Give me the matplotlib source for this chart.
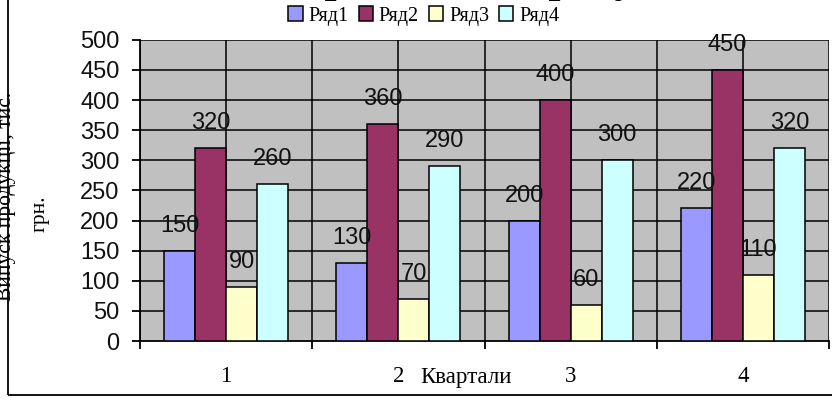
import matplotlib
matplotlib.use("Agg")
import matplotlib.pyplot as plt
from matplotlib.patches import Patch, Rectangle
import numpy as np

categories = ["1", "2", "3", "4"]
series_names = ["Ряд1", "Ряд2", "Ряд3", "Ряд4"]
ryad1 = [150, 130, 200, 220]
ryad2 = [320, 360, 400, 450]
ryad3 = [90, 70, 60, 110]
ryad4 = [260, 290, 300, 320]
series = [ryad1, ryad2, ryad3, ryad4]
colors = ["#9999FF", "#993366", "#FFFFCC", "#CCFFFF"]
y_ticks = [0, 50, 100, 150, 200, 250, 300, 350, 400, 450, 500]

W, H = 832, 404
fig = plt.figure(figsize=(W / 100, H / 100), dpi=100)
fig.patch.set_facecolor("white")

def fx(px):
    return px / W

def fy(py):
    return 1 - py / H

# outer chart frame
fig.add_artist(Rectangle((fx(8), fy(395)), 1.2, 1.2, transform=fig.transFigure,
                         fill=False, edgecolor="black", linewidth=1.3, zorder=0))

left, right, top, bottom = 140, 829, 39.8, 341
ax = fig.add_axes([fx(left), fy(bottom), fx(right - left), (bottom - top) / H])
ax.set_facecolor("#C0C0C0")
ax.set_xlim(-0.5, 3.5)
ax.set_ylim(0, 500)

x = np.arange(len(categories))
w = 0.18
offsets = [-1.5, -0.5, 0.5, 1.5]
for vals, col, off in zip(series, colors, offsets):
    ax.bar(x + off * w, vals, width=w, color=col, edgecolor="black",
           linewidth=1.1, zorder=3)
    for xi, v in zip(x + off * w, vals):
        ax.annotate(str(v), (xi, v), xytext=(0, 25), textcoords="offset pixels",
                    ha="center", va="center", fontsize=17,
                    family="Liberation Sans", color="#111111", zorder=5)

# gridlines
for gx in np.arange(-0.5, 3.51, 0.5):
    ax.axvline(gx, color="black", linewidth=1.1, zorder=1)
for gy in y_ticks[1:]:
    ax.axhline(gy, color="black", linewidth=1.1, zorder=1)

for s in ["top", "right"]:
    ax.spines[s].set_visible(False)
ax.spines["left"].set_linewidth(1.3)
ax.spines["bottom"].set_linewidth(1.3)

ax.set_yticks(y_ticks)
ax.set_yticklabels([str(t) for t in y_ticks], family="Liberation Sans",
                   fontsize=17, color="#111111")
ax.tick_params(axis="y", length=5.8, width=1.3, pad=9, direction="out")
ax.set_xticks(np.arange(-0.5, 3.51, 1.0))
ax.set_xticklabels([])
ax.tick_params(axis="x", length=5.8, width=1.3, direction="out")

# category labels
ylab = -(377 - bottom) / (bottom - top)
for xi, c in zip(x, categories):
    ax.text(xi, ylab, c, transform=ax.get_xaxis_transform(), ha="center",
            va="center", fontsize=16.5, family="Liberation Serif")

fig.text(fx(466), fy(377), "Квартали", ha="center", va="center",
         fontsize=16.5, family="Liberation Serif")

# y axis title (two lines, partially cut by the left edge as in the original)
fig.text(fx(7), fy(196), "Випуск продукції, тис.", rotation=90, ha="center",
         va="center", fontsize=15.5, family="Liberation Serif")
fig.text(fx(40), fy(214), "грн.", rotation=90, ha="center", va="center",
         fontsize=15.5, family="Liberation Serif")

# title mostly outside the figure (only descenders visible, as in the original)
fig.text(fx(453), fy(-8.5), "Обсяг реалізації продукції", ha="center",
         va="baseline", fontsize=31, fontweight="bold", family="Liberation Serif")

# legend
handles = [Patch(facecolor=c, edgecolor="black", linewidth=1.1) for c in colors]
fig.legend(handles, series_names, loc="center", bbox_to_anchor=(fx(424), fy(16)),
           ncol=4, frameon=False, handlelength=0.7,
           handleheight=0.7, handletextpad=0.3, columnspacing=0.5,
           prop={"family": "Liberation Serif", "size": 14.5})

fig.savefig("out.png", dpi=100)
